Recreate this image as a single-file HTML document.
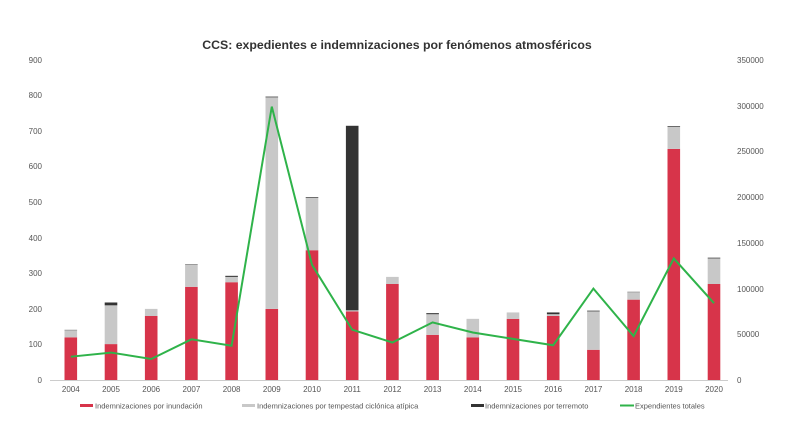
<!DOCTYPE html>
<html><head><meta charset="utf-8"><style>body{margin:0;background:#fff}svg{display:block;font-family:"Liberation Sans",sans-serif}</style></head><body>
<svg width="790" height="443" viewBox="0 0 790 443">
<text x="397" y="49" text-anchor="middle" font-size="12.3" font-weight="bold" fill="#333">CCS: expedientes e indemnizaciones por fenómenos atmosféricos</text>
<g font-size="8" fill="#555" text-anchor="end">
<text x="42" y="383">0</text><text x="42" y="347">100</text><text x="42" y="312">200</text><text x="42" y="276">300</text><text x="42" y="241">400</text><text x="42" y="205">500</text><text x="42" y="169">600</text><text x="42" y="134">700</text><text x="42" y="98">800</text><text x="42" y="63">900</text>
</g>
<g font-size="8" fill="#555" text-anchor="start">
<text x="737" y="383">0</text><text x="737" y="337">50000</text><text x="737" y="292">100000</text><text x="737" y="246">150000</text><text x="737" y="200">200000</text><text x="737" y="154">250000</text><text x="737" y="109">300000</text><text x="737" y="63">350000</text>
</g>
<line x1="50" y1="380.5" x2="728" y2="380.5" stroke="#ccc"/>
<g id="bars"></g>
<g font-size="8" fill="#555" text-anchor="middle" id="xl"></g>
<polyline id="ln" fill="none" stroke="#2fb34a" stroke-width="2"/>
<g font-size="7.5" fill="#555">
<rect x="80" y="404" width="13" height="3" fill="#d7344a"/><text x="95" y="408.5">Indemnizaciones por inundación</text>
<rect x="242" y="404" width="13" height="3" fill="#c8c8c8"/><text x="257" y="408.5">Indemnizaciones por tempestad ciclónica atípica</text>
<rect x="471" y="404" width="13" height="3" fill="#333"/><text x="485" y="408.5">Indemnizaciones por terremoto</text>
<rect x="620" y="404.5" width="14" height="2" fill="#2fb34a"/><text x="635" y="408.5">Expendientes totales</text>
</g>
<script>
var d=[[120,140,141,25500],[101,210,218,30000],[180,200,200,23000],[262,325,326,44500],[275,290,293,37500],[200,795,797,299000],[365,512,514,126000],[193,196,715,55000],[270,290,290,41000],[127,185,188,63000],[120,172,172,52000],[172,190,190,45000],[180,185,190,38000],[85,193,195,100000],[226,247,248,48000],[650,712,714,133000],[270,342,344,84000]];
var ns="http://www.w3.org/2000/svg",b=document.getElementById('bars'),xl=document.getElementById('xl'),pts=[];
function Y(v){return 380-v/900*320}
function r(x,y1,y2,c){var e=document.createElementNS(ns,'rect');e.setAttribute('x',x-6.3);e.setAttribute('width',12.6);e.setAttribute('y',Y(y2));e.setAttribute('height',Math.max(0,Y(y1)-Y(y2)));e.setAttribute('fill',c);b.appendChild(e);}
d.forEach(function(a,i){var x=70.8+i*40.2;r(x,0,a[0],'#d7344a');r(x,a[0],a[1],'#c8c8c8');r(x,a[1],a[2],'#333');
var t=document.createElementNS(ns,'text');t.setAttribute('x',x);t.setAttribute('y',392);t.textContent=2004+i;xl.appendChild(t);
pts.push(x+','+(380-a[3]/350000*320));});
document.getElementById('ln').setAttribute('points',pts.join(' '));
</script>
</svg>
</body></html>
